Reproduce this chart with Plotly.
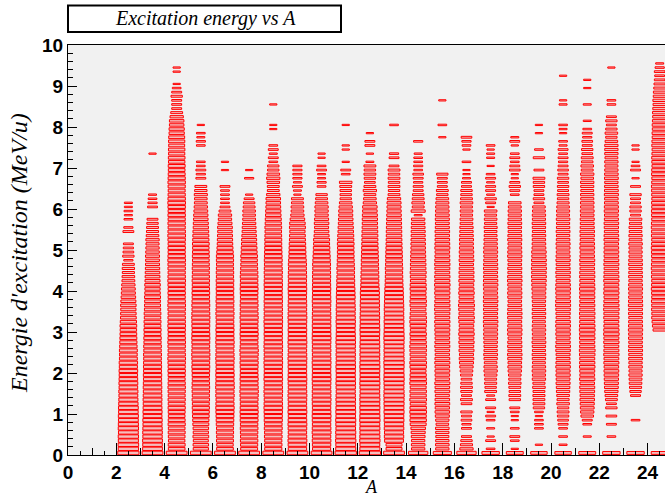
import plotly.graph_objects as go

# ---------------- data ----------------
# Mass number columns (bin lower edges, bin width 1)
A_bins = list(range(2, 25))
E_bin_width = 0.1  # MeV/u per y bin, bins start at 0

# Relative bin content (percent of the largest box size) per E bin, bottom (E=0) to top
A2 = [88, 84, 85, 83, 84, 82, 84, 83, 82, 83, 81, 82, 80, 79, 78, 79, 77, 78, 77, 76, 77,
      75, 76, 74, 73, 74, 72, 71, 70, 69, 68, 69, 67, 65, 64, 63, 64, 62, 60, 58, 57, 55,
      53, 52, 50, 51, 49, 38, 47, 44, 42, 41, 0, 0, 45, 38, 0, 36, 33, 36, 33, 33]
A3 = [86, 82, 81, 82, 80, 81, 80, 79, 80, 78, 79, 78, 77, 78, 77, 76, 77, 76, 75, 76, 74,
      75, 74, 73, 74, 72, 73, 71, 72, 70, 71, 69, 70, 68, 69, 67, 66, 65, 66, 64, 63, 64,
      62, 61, 60, 59, 58, 57, 58, 56, 55, 54, 55, 52, 50, 49, 47, 45, 0, 0, 41, 38, 36, 33,
      0, 0, 0, 0, 0, 0, 0, 0, 0, 30]
A4 = [86, 69, 70, 68, 69, 70, 69, 71, 70, 69, 70, 71, 70, 71, 70, 71, 72, 71, 70,
      71, 72, 71, 72, 73, 72, 71, 72, 73, 72, 71, 72, 73, 72, 72, 71, 72, 73, 72, 71, 72,
      71, 72, 73, 72, 71, 72, 72, 73, 72, 71, 72, 71, 72, 73, 72, 71, 72, 71, 72, 71, 72,
      73, 72, 71, 70, 71, 72, 71, 70, 69, 70, 68, 69, 67, 68, 66, 67, 66, 63, 63, 60, 60,
      55, 49, 41, 41, 41, 47, 41, 36, 30, 0, 0, 30, 30]
A5 = [86, 63, 64, 62, 65, 63, 64, 66, 67, 69, 70, 71, 70, 72, 71, 72, 73, 72, 71, 72, 73,
      74, 73, 74, 75, 74, 73, 74, 75, 74, 73, 74, 74, 75, 74, 73, 74, 73, 72, 73, 72,
      71, 72, 71, 70, 71, 70, 69, 70, 69, 68, 69, 67, 66, 65, 63, 62, 60, 59, 57,
      55, 53, 52, 54, 51, 49, 0, 41, 38, 41, 36, 36, 0, 0, 0, 36, 38, 33, 36, 0, 30]
A6 = [86, 69, 68, 70, 69, 71, 70, 72, 73, 74, 75, 76, 75, 74, 76, 75, 77, 76, 75, 76, 75,
      74, 75, 76, 75, 74, 75, 76, 75, 74, 75, 74, 73, 74, 75, 74, 73, 74, 73, 72, 73,
      72, 73, 71, 72, 71, 70, 71, 71, 68, 66, 64, 63, 62, 60, 61, 58, 55,
      55, 49, 41, 36, 36, 36, 36, 41, 0, 0, 0, 30, 0, 30]
A7 = [86, 70, 71, 72, 71, 72, 73, 72, 74, 74, 75, 74, 73, 74, 75, 76, 75, 74, 75, 74, 73,
      74, 75, 74, 75, 76, 74, 73, 74, 75, 74, 73, 74, 75, 74, 73, 74, 73, 72, 73, 74, 73,
      72, 73, 72, 70, 69, 68, 69, 66, 65, 63, 62, 60, 58, 57, 55, 53,
      52, 52, 49, 47, 41, 30, 0, 0, 0, 38, 0, 30]
A8 = [86, 71, 72, 71, 73, 72, 74, 73, 75, 75, 76, 77, 76, 75, 76, 77, 76, 75, 77, 76, 75,
      76, 77, 76, 75, 76, 77, 76, 75, 76, 75, 76, 77, 76, 75, 76, 75, 76, 75, 74, 75, 76,
      75, 74, 75, 74, 73, 74, 73, 72, 71, 70, 70, 69, 68, 69, 67, 66, 64, 63, 61, 60,
      60, 55, 49, 49, 52, 55, 52, 47, 47, 36, 41, 33, 41, 36, 0, 0, 0, 30, 30, 0, 0, 0, 0, 30]
A9 = [86, 76, 77, 78, 77, 76, 77, 78, 77, 76, 78, 77, 76, 77, 78, 77, 76, 77, 78, 77, 76,
      77, 77, 78, 77, 76, 77, 78, 77, 76, 77, 76, 77, 78, 77, 76, 77, 76, 75, 76, 77, 76,
      75, 76, 75, 74, 75, 73, 71, 70, 69, 68, 66, 65, 63, 66, 64, 60,
      55, 52, 52, 49, 49, 30, 33, 41, 33, 38, 38, 38, 38]
A10 = [86, 75, 76, 77, 76, 78, 77, 76, 77, 78, 77, 76, 77, 78, 77, 77, 76, 77, 78, 77, 76,
       77, 78, 77, 76, 77, 76, 77, 78, 77, 76, 77, 76, 77, 76, 75, 76, 77, 76, 75, 76, 75,
       74, 75, 74, 73, 74, 72, 71, 69, 68, 66, 66, 62, 60, 58, 60, 58, 55, 55,
       55, 52, 49, 47, 0, 36, 38, 33, 33, 41, 36, 0, 30, 30]
A11 = [88, 83, 82, 84, 82, 83, 81, 82, 83, 81, 82, 81, 80, 81, 80, 79, 80, 81, 80, 79, 80,
       81, 80, 79, 80, 79, 80, 81, 80, 79, 78, 79, 80, 79, 78, 79, 78, 77, 78, 77, 76,
       74, 74, 73, 72, 73, 71, 70, 69, 69, 68, 69, 67, 66, 64, 63, 61, 60,
       58, 58, 55, 52, 47, 47, 47, 49, 52, 0, 36, 41, 0, 30, 0, 0, 30, 30, 0, 0, 0, 0, 30]
A12 = [88, 83, 82, 84, 83, 82, 83, 82, 84, 83, 82, 83, 82, 83, 82, 81, 82, 83, 82, 81, 82,
       83, 82, 81, 82, 81, 82, 81, 80, 81, 82, 81, 80, 81, 80, 79, 80, 79, 78, 79, 77,
       75, 74, 74, 73, 72, 71, 71, 70, 69, 68, 67, 66, 66, 65, 64, 63, 63, 62, 60,
       60, 55, 52, 49, 55, 49, 44, 47, 49, 47, 49, 33, 0, 30, 0, 41, 41, 0, 30]
A13 = [86, 66, 66, 78, 80, 79, 81, 80, 82, 81, 83, 82, 83,
       83, 84, 83, 82, 83, 84, 83, 82, 83, 84, 83, 82, 83, 82, 83, 84, 83, 82, 81, 82, 81,
       80, 81, 80, 79, 78, 77, 76, 74, 73, 72, 71, 72, 70, 69, 69, 68, 67, 66, 65, 64, 64,
       63, 62, 61, 60, 59, 58, 58, 55, 49, 47, 49, 47, 49, 47, 49, 41, 0, 41, 38,
       0, 0, 0, 0, 0, 0, 36]
A14 = [80, 55, 56, 55, 57, 58, 60,
       66, 68, 67, 69, 68, 66, 69, 67, 68, 66, 69, 68, 67, 65, 68, 69, 66, 67, 68, 69, 67,
       66, 68, 65, 67, 69, 68, 66, 64, 67, 68, 66, 65, 67, 66, 64, 65, 66, 64,
       64, 63, 62, 61, 60, 60, 59, 58, 58, 57, 56,
       55, 33, 58, 49, 52, 49, 47, 41, 41, 38, 41, 44, 36, 38, 36, 36, 33, 0, 0, 38]
A15 = [75, 55, 56, 55, 54, 55, 56, 52, 55,
       58, 60, 59, 61, 60, 58, 61, 60, 62, 59, 60, 61, 60, 62, 61, 59, 60, 62, 61, 60, 61, 62,
       62, 63, 61, 62, 64, 63, 62, 61, 63, 62, 64, 62, 63, 61, 62, 63, 62, 61, 60, 62, 61,
       60, 59, 60, 58, 57, 58, 57, 56, 55, 54, 52, 47, 49, 41, 41, 41, 47,
       0, 0, 0, 0, 0, 0, 0, 0, 30, 0, 0, 36, 0, 0, 0, 0, 0, 30]
A16 = [80, 55, 50, 47, 41, 0, 41, 38, 44, 41, 47, 0, 44, 49, 41, 47, 49, 47, 44, 49, 52,
       55, 58, 60, 58, 62, 60, 63, 61, 64, 62, 60, 63, 65, 62, 64, 66, 63, 61, 64, 62, 60,
       63, 61, 62, 60, 58, 61, 59, 60, 58, 57, 58, 56, 55,
       55, 52, 53, 50, 52, 49, 52, 49,
       47, 47, 41, 41, 33, 30, 30, 0, 36, 0, 0, 30, 36, 38, 44]
A17 = [72, 36, 0, 41, 30, 0, 33, 0, 36, 41, 30, 41, 0, 41, 33,
       49, 47, 50, 49, 52, 55, 55, 52, 55, 57, 55, 55, 56, 57,
       58, 57, 59, 60, 58, 57, 59, 58, 60, 59, 57, 58, 60, 59, 58, 57, 59, 58, 57, 56, 58,
       57, 55, 55, 53, 52, 54, 50, 52, 49, 52,
       30, 41, 47, 33, 41, 41, 33, 41, 36, 0, 30, 0, 33, 33, 30, 36]
A18 = [70, 30, 0, 36, 41, 0, 36, 0, 30, 30, 36, 41, 0, 47, 49, 47, 49, 52, 50, 52,
       55, 57, 56, 58, 60, 57, 59, 58, 56, 59, 60, 58, 57, 59, 60, 58, 57, 56, 58, 59, 57,
       58, 60, 59, 57, 58, 56, 57, 59, 58, 57, 56, 58, 57, 55, 56, 57, 55, 54, 55, 53,
       52, 0, 36, 41, 47, 41, 30, 30, 44, 41, 36, 41, 36, 0, 30, 41, 33]
A19 = [68, 0, 30, 0, 0, 0, 36, 36, 36, 30, 36, 47, 49, 49, 50, 49, 52, 50,
       55, 54, 56, 55, 53, 55, 56, 54, 55, 57, 55, 54, 56, 55, 53, 55, 56, 55, 54, 55, 57,
       56, 58, 59, 60, 61, 60, 62, 60, 61, 59, 60, 57, 56, 55, 56, 54, 55, 56, 54, 55, 53,
       52, 41, 47, 41, 41, 47, 47, 49, 0, 41, 0, 0, 47, 0, 36, 0, 0, 0, 30, 0, 30]
A20 = [68, 0, 33, 0, 36, 0, 36, 41, 44, 47, 49, 47, 52, 50, 52,
       55, 56, 58, 57, 59, 58, 60, 59, 57, 58, 60, 61, 59, 58, 60, 59, 61, 60, 58, 59, 60,
       62, 61, 59, 60, 61, 60, 58, 59, 60, 58, 57, 59, 58, 56, 57, 58, 56, 55, 57, 55, 54,
       56, 53, 54, 52,
       50, 47, 49, 45, 47, 44, 47, 41, 44, 41, 38, 41, 36, 41, 33, 36, 0, 30, 33, 36,
       0, 0, 0, 0, 33, 30, 0, 0, 0, 0, 0, 30]
A21 = [70, 0, 0, 0, 33, 0, 0, 36, 41,
       52, 55, 57, 58, 60, 59, 61, 62, 60, 63, 61, 62, 64, 63, 62, 64, 65, 63, 62, 64, 63,
       65, 64, 62, 63, 64, 62, 63, 61, 63, 62, 64, 62, 61, 63, 62, 60, 61, 62, 60, 59, 61,
       60, 58, 59, 60, 58, 57, 58, 56, 57, 55, 56, 54, 55, 53, 54,
       55, 52, 55, 49, 52, 47, 49, 44, 47, 41, 44, 38, 41, 36, 0, 33, 0, 0, 0, 33,
       0, 0, 0, 30, 0, 30]
A22 = [72, 0, 0, 0, 36, 0, 0, 41, 0, 44, 0, 47, 41, 49,
       52, 55, 57, 58, 59, 60, 61, 60, 62, 61, 63, 62, 61, 63, 62, 64, 63, 62, 61, 63, 62,
       64, 63, 62, 61, 63, 62, 61, 63, 62, 61, 60, 62, 61, 60, 61, 60, 59, 61, 60, 58, 59,
       60, 58, 57, 59, 58, 57, 56, 58, 57, 56, 55, 57, 56, 55, 54, 55, 53, 55,
       55, 55, 52, 47, 52, 47, 41, 47, 41, 0, 0, 36, 36, 0, 0, 0, 0, 0, 0, 0, 30]
A23 = [72, 0, 0, 0, 0, 0, 0, 0, 36, 0, 0, 0, 0, 0, 41,
       47, 50, 52, 53, 55, 54, 56, 55, 57, 56, 58, 57, 56, 58, 57, 59, 58, 57, 56, 58, 57,
       59, 58, 57, 56, 58, 57, 55, 57, 56, 55, 57, 56, 54, 55, 54, 56, 53, 55, 52, 54, 50,
       52,
       41, 47, 47, 41, 41, 47, 0, 41, 0, 30, 0, 41, 36, 30, 0, 0, 30, 30]
A24 = [70, 0, 0, 0, 0, 0, 0, 0, 0, 0, 0, 0, 0, 0, 0, 0, 0, 0, 0, 0, 0, 0, 0, 0, 0, 0, 0,
       0, 0, 0,
       55, 60, 63, 66, 65, 67, 66, 68, 66, 67, 69, 67, 66, 68, 67, 69, 68, 66, 67, 68, 69,
       67, 66, 68, 67, 69, 68, 66, 67, 68, 66, 67, 65, 66, 67, 68, 66, 65, 67, 66, 64, 65,
       66, 64, 63, 65, 64, 62, 63, 61, 62, 60, 58, 59, 57, 55, 56, 53, 52, 49, 47, 44, 41,
       44, 38, 33]

columns = [A2, A3, A4, A5, A6, A7, A8, A9, A10, A11, A12, A13, A14, A15, A16, A17,
           A18, A19, A20, A21, A22, A23, A24]

x_ticks_major = 2
y_ticks_major = 1

# ---------------- build box outlines (ROOT "BOX" style) ----------------
xs, ys = [], []
for a, col in zip(A_bins, columns):
    xc = a + 0.5
    for i, c in enumerate(col):
        if c <= 0:
            continue
        f = c / 100.0
        yc = (i + 0.5) * E_bin_width
        hw = 0.5 * f
        hh = 0.5 * f * E_bin_width
        xs += [xc - hw, xc + hw, xc + hw, xc - hw, xc - hw, None]
        ys += [yc - hh, yc - hh, yc + hh, yc + hh, yc - hh, None]

fig = go.Figure()
fig.add_trace(go.Scatter(
    x=xs, y=ys, mode="lines", fill="toself",
    fillcolor="rgba(255,70,70,0.30)",
    line=dict(color="#ff0000", width=1),
    hoverinfo="skip", showlegend=False))
# helper trace for the secondary (medium) x ticks
fig.add_trace(go.Scatter(x=[], y=[], xaxis="x2", hoverinfo="skip", showlegend=False))

W, H = 665, 498
ml, mr, mt, mb = 68, 0, 45, 43
pw, ph = W - ml - mr, H - mt - mb

tickfont = dict(family="Liberation Sans, Arial, sans-serif", size=19, color="black", weight="bold")
serif = "Liberation Serif, Times New Roman, serif"
xr = [0, 24.72]

fig.update_layout(
    width=W, height=H,
    margin=dict(l=ml, r=mr, t=mt, b=mb, pad=0, autoexpand=False),
    paper_bgcolor="white", plot_bgcolor="#f1f1f1",
    showlegend=False,
    xaxis=dict(range=xr, dtick=x_ticks_major, tick0=0, ticks="inside", ticklen=12,
               tickwidth=1, tickcolor="black", automargin=False,
               minor=dict(dtick=0.5, ticklen=4, ticks="inside", tickcolor="black", tickwidth=1),
               showline=True, linecolor="black", linewidth=1, mirror=True,
               showgrid=False, zeroline=False, tickfont=tickfont),
    xaxis2=dict(range=xr, overlaying="x", anchor="y", side="bottom", dtick=1, tick0=0,
                ticks="inside", ticklen=7, tickwidth=1, tickcolor="black", automargin=False,
                showticklabels=False, showline=False, showgrid=False, zeroline=False),
    yaxis=dict(range=[0, 10], dtick=y_ticks_major, tick0=0, ticks="inside", ticklen=9,
               tickwidth=1, tickcolor="black", automargin=False,
               minor=dict(dtick=0.2, ticklen=5, ticks="inside", tickcolor="black", tickwidth=1),
               showline=True, linecolor="black", linewidth=1, mirror=False,
               showgrid=False, zeroline=False, tickfont=tickfont),
)

# x-axis title
fig.add_annotation(xref="paper", yref="paper",
                   x=(371 - ml) / pw, y=(H - mb - 498) / ph,
                   xanchor="center", yanchor="bottom", showarrow=False,
                   text="<i>A</i>", borderpad=0,
                   font=dict(family=serif, size=18, color="black"))

# y-axis title
fig.add_annotation(xref="paper", yref="paper",
                   x=(19 - ml) / pw, y=(H - mb - 253) / ph,
                   xanchor="center", yanchor="middle", showarrow=False, textangle=-90,
                   text="<i>Energie d'excitation (MeV/u)</i>",
                   font=dict(family=serif, size=24, color="black"))

# title box (ROOT TPaveText style)
box_l, box_r, box_t, box_b = 68, 341, 5.5, 32
fig.add_shape(type="rect", xref="paper", yref="paper",
              x0=(box_l - ml) / pw, x1=(box_r - ml) / pw,
              y0=(H - mb - box_b) / ph, y1=(H - mb - box_t) / ph,
              line=dict(color="black", width=2), fillcolor="white")
fig.add_annotation(xref="paper", yref="paper",
                   x=(205 - ml) / pw, y=(H - mb - 18.5) / ph,
                   xanchor="center", yanchor="middle", showarrow=False,
                   text="<i>Excitation energy vs A</i>",
                   font=dict(family=serif, size=20, color="black"))

fig.write_html("out.html", config={"displayModeBar": False})
